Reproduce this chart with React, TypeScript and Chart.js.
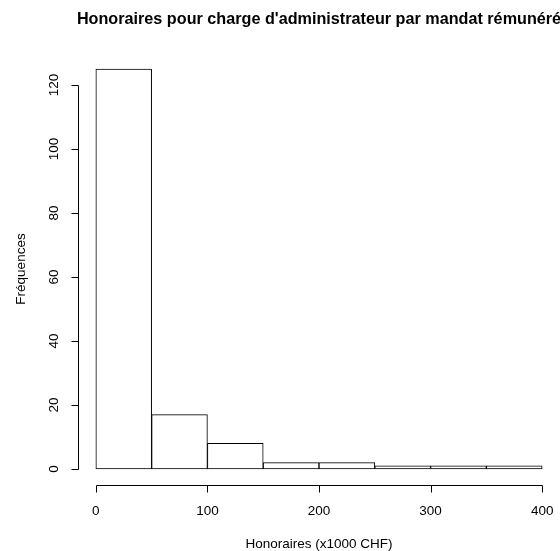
import React, { useEffect, useRef } from "react";
import { Chart, registerables } from "chart.js";

Chart.register(...registerables);

const binStarts = [0, 50, 100, 150, 200, 250, 300, 350];
const binWidth = 50;
const counts = [125, 17, 8, 2, 2, 1, 1, 1];
const xTicks = [0, 100, 200, 300, 400];
const yTicks = [0, 20, 40, 60, 80, 100, 120];
const titleText = "Honoraires pour charge d'administrateur par mandat rémunéré";
const xTitle = "Honoraires (x1000 CHF)";
const yTitle = "Fréquences";

const FONT = "Liberation Sans, Arial, Helvetica, sans-serif";

const rAxesPlugin = {
  id: "rAxes",
  afterDraw(chart: any) {
    const { ctx, chartArea, scales } = chart;
    const xs = scales.x;
    const ys = scales.y;
    ctx.save();
    ctx.strokeStyle = "#000";
    ctx.fillStyle = "#000";
    ctx.lineWidth = 1;

    // y axis
    const ax = Math.round(chartArea.left) + 0.5;
    const y0 = Math.round(ys.getPixelForValue(yTicks[0])) + 0.5;
    const y1 = Math.round(ys.getPixelForValue(yTicks[yTicks.length - 1])) + 0.5;
    ctx.beginPath();
    ctx.moveTo(ax, y0);
    ctx.lineTo(ax, y1);
    yTicks.forEach((t) => {
      const py = Math.round(ys.getPixelForValue(t)) + 0.5;
      ctx.moveTo(ax, py);
      ctx.lineTo(ax - 7, py);
    });
    ctx.stroke();
    ctx.font = `13.5px ${FONT}`;
    ctx.textAlign = "center";
    ctx.textBaseline = "middle";
    yTicks.forEach((t) => {
      const py = ys.getPixelForValue(t);
      ctx.save();
      ctx.translate(chartArea.left - 24, py);
      ctx.rotate(-Math.PI / 2);
      ctx.fillText(String(t), 0, 0);
      ctx.restore();
    });

    // x axis
    const ay = Math.round(chartArea.bottom) + 0.5;
    const x0 = Math.round(xs.getPixelForValue(xTicks[0])) + 0.5;
    const x1 = Math.round(xs.getPixelForValue(xTicks[xTicks.length - 1])) + 0.5;
    ctx.beginPath();
    ctx.moveTo(x0, ay);
    ctx.lineTo(x1, ay);
    xTicks.forEach((t) => {
      const px = Math.round(xs.getPixelForValue(t)) + 0.5;
      ctx.moveTo(px, ay);
      ctx.lineTo(px, ay + 7);
    });
    ctx.stroke();
    xTicks.forEach((t) => {
      ctx.fillText(String(t), xs.getPixelForValue(t), chartArea.bottom + 26);
    });

    // axis titles
    ctx.fillText(xTitle, (chartArea.left + chartArea.right) / 2, chartArea.bottom + 59);
    ctx.save();
    ctx.translate(chartArea.left - 57, (chartArea.top + chartArea.bottom) / 2);
    ctx.rotate(-Math.PI / 2);
    ctx.fillText(yTitle, 0, 0);
    ctx.restore();

    // main title
    ctx.font = `bold 16.2px ${FONT}`;
    ctx.fillText(titleText, (chartArea.left + chartArea.right) / 2, chartArea.top - 33);
    ctx.restore();
  },
};

export default function App() {
  const ref = useRef<HTMLCanvasElement>(null);
  useEffect(() => {
    if (!ref.current) return;
    const chart = new Chart(ref.current, {
      type: "bar",
      data: {
        datasets: [
          {
            data: binStarts.map((s, i) => ({ x: s + binWidth / 2, y: counts[i] })),
            backgroundColor: "#ffffff",
            borderColor: "#000000",
            borderWidth: 1,
            borderSkipped: false,
            barPercentage: 1,
            categoryPercentage: 1,
          },
        ],
      },
      options: {
        responsive: false,
        animation: false,
        events: [],
        layout: { padding: { left: 78, right: 0, top: 53, bottom: 66 } },
        plugins: { legend: { display: false }, tooltip: { enabled: false }, title: { display: false } },
        scales: {
          x: { type: "linear", min: -16, max: 416, offset: false, display: false },
          y: { type: "linear", min: -5, max: 130, display: false },
        },
      },
      plugins: [rAxesPlugin],
    });
    return () => chart.destroy();
  }, []);
  return (
    <div style={{ position: "fixed", left: 0, top: 0, width: 560, height: 551, background: "#fff" }}>
      <canvas ref={ref} width={560} height={551} style={{ width: 560, height: 551 }} />
    </div>
  );
}
